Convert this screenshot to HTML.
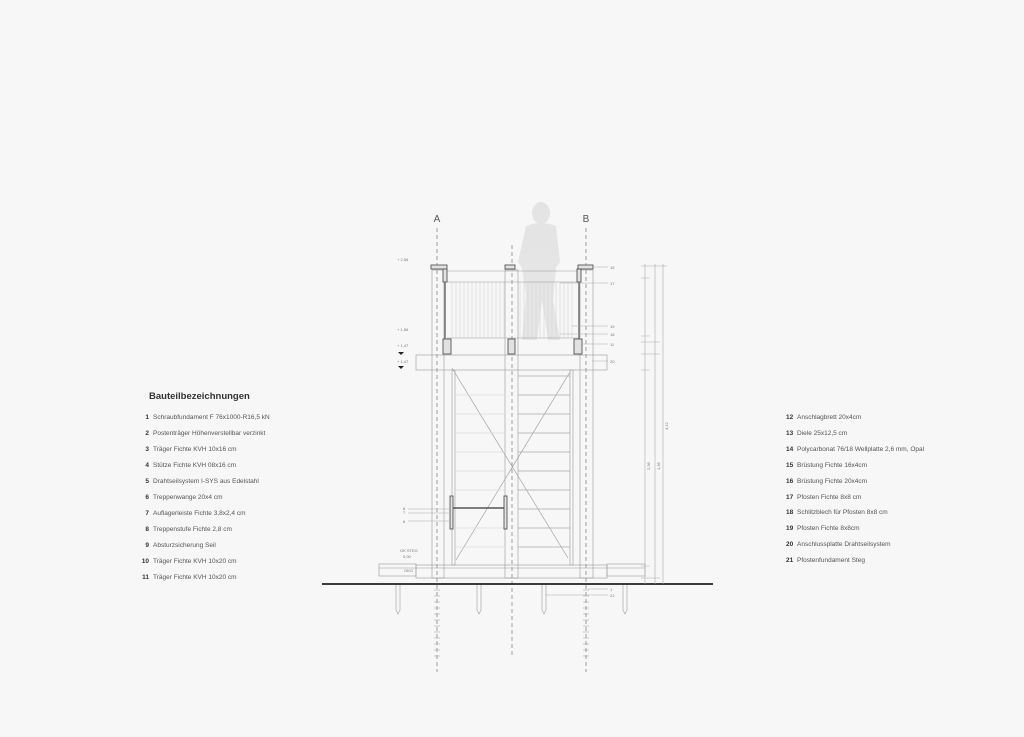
<!DOCTYPE html>
<html><head><meta charset="utf-8"><style>
html,body{margin:0;padding:0;background:#f7f7f7;}
svg{display:block;font-family:"Liberation Sans",sans-serif;}
</style></head><body>
<svg width="1024" height="737" viewBox="0 0 1024 737" xmlns="http://www.w3.org/2000/svg">
<rect width="1024" height="737" fill="#f7f7f7"/>
<!-- person silhouette -->
<g fill="#e0e0e0" opacity="0.8">
<ellipse cx="541" cy="213" rx="9" ry="11"/>
<path d="M526 226 Q541 220 556 226 L560 262 L556 268 L553 300 L560 340 L548 340 L542 300 L537 340 L522 340 L526 295 L522 268 L518 262 Z"/>
</g>
<!-- axes -->
<g stroke="#888" stroke-width="0.8" stroke-dasharray="4,3" fill="none">
<line x1="437" y1="228" x2="437" y2="672"/>
<line x1="586" y1="228" x2="586" y2="672"/>
<line x1="512" y1="245" x2="512" y2="655"/>
</g>
<text x="437" y="222" font-size="10" fill="#555" text-anchor="middle">A</text>
<text x="586" y="222" font-size="10" fill="#555" text-anchor="middle">B</text>
<!-- polycarbonate -->
<g stroke="#d2d2d2" stroke-width="0.6">
<path d="M452 282V338M456 282V338M460 282V338M464 282V338M468 282V338M472 282V338M476 282V338M480 282V338M484 282V338M488 282V338M492 282V338M496 282V338M500 282V338M504 282V338M520 282V338M524 282V338M528 282V338M532 282V338M536 282V338M540 282V338M544 282V338M548 282V338M552 282V338M556 282V338M560 282V338M564 282V338M568 282V338M572 282V338"/>
</g>
<g stroke="#999" stroke-width="0.6" fill="none">
<line x1="444" y1="271" x2="580" y2="271"/>
<line x1="447" y1="282" x2="578" y2="282"/>
<line x1="447" y1="338" x2="578" y2="338"/>
<rect x="432" y="270" width="12" height="308"/>
<rect x="580" y="270" width="13" height="308"/>
<rect x="505" y="270" width="13" height="308"/>
<rect x="416" y="355" width="191" height="15"/>
<rect x="452" y="370" width="3" height="195"/>
<rect x="570" y="370" width="3" height="195"/>
<rect x="379" y="564" width="37" height="12"/>
<rect x="416" y="565" width="191" height="13"/>
<rect x="607" y="564" width="38" height="12"/>
<line x1="379" y1="568" x2="645" y2="568"/>
<line x1="452" y1="368" x2="568" y2="558"/>
<line x1="570" y1="372" x2="456" y2="560"/>
</g>
<g stroke="#aaa" stroke-width="0.7" fill="none">
<path d="M518 376H570M518 395H570M518 414H570M518 433H570M518 452H570M518 471H570M518 490H570M518 509H570M518 528H570M518 547H570"/>
</g>
<g stroke="#ddd" stroke-width="0.7">
<path d="M455 395H505M455 414H505M455 433H505M455 452H505M455 471H505M455 490H505M455 528H505M455 547H505"/>
</g>
<g fill="#e2e2e2" stroke="#555" stroke-width="0.9">
<rect x="431" y="265" width="16" height="4"/>
<rect x="505" y="265" width="10" height="4"/>
<rect x="578" y="265" width="15" height="4"/>
<rect x="443" y="269" width="4" height="13"/>
<rect x="577" y="269" width="4" height="13"/>
<rect x="443" y="339" width="8" height="15"/>
<rect x="508" y="339" width="7" height="15"/>
<rect x="574" y="339" width="8" height="15"/>
<rect x="450" y="496" width="3" height="33"/>
<rect x="504" y="496" width="3" height="33"/>
</g>
<line x1="445" y1="282" x2="445" y2="339" stroke="#666" stroke-width="1.4"/>
<line x1="579" y1="282" x2="579" y2="339" stroke="#666" stroke-width="1.4"/>
<line x1="453" y1="508" x2="504" y2="508" stroke="#555" stroke-width="1.4"/>
<line x1="322" y1="584" x2="713" y2="584" stroke="#222" stroke-width="1.8"/>
<g stroke="#aaa" stroke-width="0.7" fill="none">
<path d="M396 585V610L398 614L400 610V585"/>
<path d="M477 585V610L479 614L481 610V585"/>
<path d="M542 585V610L544 614L546 610V585"/>
<path d="M623 585V610L625 614L627 610V585"/>
</g>
<g stroke="#999" stroke-width="0.6">
<path d="M434 590H440M434 596H440M434 602H440M434 608H440M434 614H440M434 620H440M434 626H440M434 632H440M434 638H440M434 644H440M434 650H440M434 656H440"/>
<path d="M583 590H589M583 596H589M583 602H589M583 608H589M583 614H589M583 620H589M583 626H589M583 632H589M583 638H589M583 644H589M583 650H589M583 656H589"/>
</g>
<g stroke="#aaa" stroke-width="0.6">
<line x1="645" y1="264" x2="645" y2="584"/>
<line x1="655" y1="264" x2="655" y2="584"/>
<line x1="663" y1="264" x2="663" y2="584"/>
<path d="M641 266H667M641 278H650M641 336H650M641 342H660M641 354H660M641 370H650M641 566H650M641 578H660"/>
<path d="M593 267H608M560 283H608M572 326H608M560 334H608M583 344H608M592 361H608M588 589H608M545 595H608M408 509H449M408 513H449M408 521H449"/>
</g>
<g font-size="4" fill="#777">
<text x="610" y="269">15</text><text x="610" y="285">17</text><text x="610" y="328">19</text>
<text x="610" y="336">18</text><text x="610" y="346">11</text><text x="610" y="363">20</text>
<text x="610" y="591">1</text><text x="610" y="597">21</text>
<text x="403" y="510">8</text><text x="403" y="514">7</text><text x="403" y="523">6</text>
<text x="650" y="470" transform="rotate(-90 650 470)">2,36</text>
<text x="660" y="470" transform="rotate(-90 660 470)">1,36</text>
<text x="668" y="430" transform="rotate(-90 668 430)">4,12</text>
<text x="397" y="261">+ 2,56</text><text x="397" y="331">+ 1,56</text>
<text x="397" y="347">+ 1,47</text><text x="397" y="363">+ 1,47</text>
<text x="400" y="552">OK STEG</text><text x="403" y="558">0,00</text><text x="404" y="572">OKG</text>
</g>
<g fill="#222"><path d="M398 352h6l-3 3z"/><path d="M398 366h6l-3 3z"/></g>
<g font-size="6.5" fill="#555">
<text x="149" y="399" font-size="9.5" font-weight="bold" fill="#333">Bauteilbezeichnungen</text>
<g font-weight="bold" fill="#333" text-anchor="end">
<text x="149" y="419">1</text><text x="149" y="435">2</text><text x="149" y="451">3</text><text x="149" y="467">4</text><text x="149" y="483">5</text><text x="149" y="499">6</text><text x="149" y="515">7</text><text x="149" y="531">8</text><text x="149" y="547">9</text><text x="149" y="563">10</text><text x="149" y="579">11</text>
</g>
<text x="153" y="419">Schraubfundament F 76x1000-R16,5 kN</text>
<text x="153" y="435">Postenträger Höhenverstellbar verzinkt</text>
<text x="153" y="451">Träger Fichte KVH 10x16 cm</text>
<text x="153" y="467">Stütze Fichte KVH 08x16 cm</text>
<text x="153" y="483">Drahtseilsystem I-SYS aus Edelstahl</text>
<text x="153" y="499">Treppenwange 20x4 cm</text>
<text x="153" y="515">Auflagerleiste Fichte 3,8x2,4 cm</text>
<text x="153" y="531">Treppenstufe Fichte 2,8 cm</text>
<text x="153" y="547">Absturzsicherung Seil</text>
<text x="153" y="563">Träger Fichte KVH 10x20 cm</text>
<text x="153" y="579">Träger Fichte KVH 10x20 cm</text>
<g font-weight="bold" fill="#333">
<text x="786" y="419">12</text><text x="786" y="435">13</text><text x="786" y="451">14</text><text x="786" y="467">15</text><text x="786" y="483">16</text><text x="786" y="499">17</text><text x="786" y="514">18</text><text x="786" y="530">19</text><text x="786" y="546">20</text><text x="786" y="562">21</text>
</g>
<text x="797" y="419">Anschlagbrett 20x4cm</text>
<text x="797" y="435">Diele 25x12,5 cm</text>
<text x="797" y="451">Polycarbonat 76/18 Wellplatte 2,6 mm, Opal</text>
<text x="797" y="467">Brüstung Fichte 16x4cm</text>
<text x="797" y="483">Brüstung Fichte 20x4cm</text>
<text x="797" y="499">Pfosten Fichte 8x8 cm</text>
<text x="797" y="514">Schlitzblech für Pfosten 8x8 cm</text>
<text x="797" y="530">Pfosten Fichte 8x8cm</text>
<text x="797" y="546">Anschlussplatte Drahtseilsystem</text>
<text x="797" y="562">Pfostenfundament Steg</text>
</g>
</svg>
</body></html>
